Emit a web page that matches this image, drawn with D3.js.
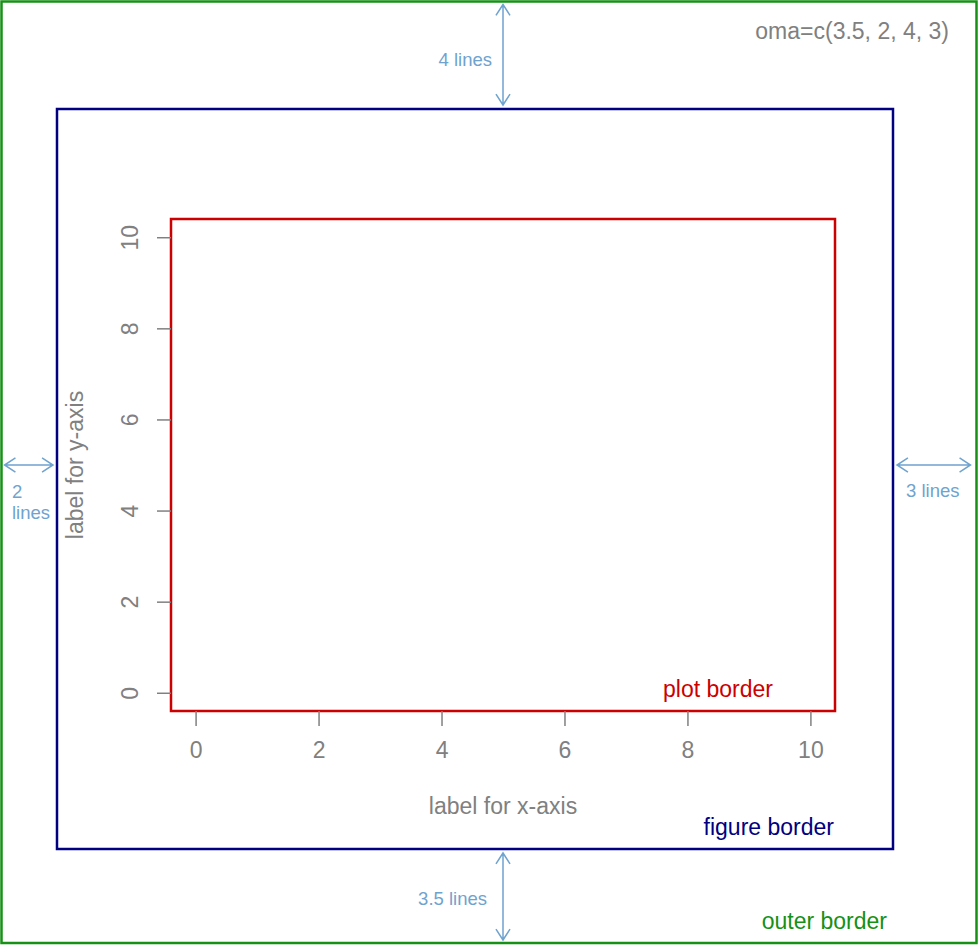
<!DOCTYPE html>
<html>
<head>
<meta charset="utf-8">
<script src="https://cdn.jsdelivr.net/npm/d3@7"></script>
<style>
  body { margin: 0; background: #fff; }
  text { font-family: "Liberation Sans", Arial, sans-serif; }
</style>
</head>
<body>
<div id="chart"></div>
<script>
// outer margin sizes, in lines: bottom, left, top, right
var omaLines = [3.5, 2, 4, 3];
var omaLabels = ["3.5 lines", "2\nlines", "4 lines", "3 lines"];
var xTicks = [0, 2, 4, 6, 8, 10];
var yTicks = [0, 2, 4, 6, 8, 10];
var xDomain = [0, 10];
var yDomain = [0, 10];

var width = 978, height = 945;
var grey = "#808080", arrowCol = "#6fa3cf";
var fs = "23px";

// boxes
var outer = {x0: 1.5, y0: 1.5, x1: 976.5, y1: 943};
var figure = {x0: 57, y0: 109, x1: 893, y1: 849};
var plot = {x0: 171, y0: 219, x1: 835, y1: 711};

var svg = d3.select("#chart").append("svg")
  .attr("width", width)
  .attr("height", height);

// R style axis: 4% extension on both ends
function extend(dom) {
  var r = (dom[1] - dom[0]) * 0.04;
  return [dom[0] - r, dom[1] + r];
}
var x = d3.scaleLinear().domain(extend(xDomain)).range([plot.x0, plot.x1]);
var y = d3.scaleLinear().domain(extend(yDomain)).range([plot.y1, plot.y0]);

function box(b, col) {
  svg.append("rect")
    .attr("x", b.x0).attr("y", b.y0)
    .attr("width", b.x1 - b.x0).attr("height", b.y1 - b.y0)
    .attr("fill", "none")
    .attr("stroke", col)
    .attr("stroke-width", 2.5);
}
box(outer, "#169116");
box(figure, "#000080");
box(plot, "#cc0000");

// axes
var xAxis = d3.axisBottom(x).tickValues(xTicks).tickSize(15).tickPadding(16);
var gx = svg.append("g")
  .attr("transform", "translate(0," + plot.y1 + ")")
  .call(xAxis);
gx.select(".domain").remove();

var yAxis = d3.axisLeft(y).tickValues(yTicks).tickSize(14);
var gy = svg.append("g")
  .attr("transform", "translate(" + plot.x0 + ",0)")
  .call(yAxis);
gy.select(".domain").remove();
gy.selectAll(".tick text")
  .attr("transform", "rotate(-90,-41,0)")
  .attr("x", -41).attr("dy", "0.35em")
  .attr("text-anchor", "middle");

[gx, gy].forEach(function (g) {
  g.selectAll(".tick line").attr("stroke", grey).attr("stroke-width", 1.5);
  g.selectAll(".tick text")
    .attr("fill", grey)
    .style("font-size", fs)
    .style("font-family", "'Liberation Sans', Arial, sans-serif");
});

// axis titles
svg.append("text")
  .attr("x", (plot.x0 + plot.x1) / 2)
  .attr("y", 814)
  .attr("text-anchor", "middle")
  .attr("fill", grey)
  .style("font-size", fs)
  .text("label for x-axis");

svg.append("text")
  .attr("transform", "translate(83," + ((plot.y0 + plot.y1) / 2) + ") rotate(-90)")
  .attr("text-anchor", "middle")
  .attr("fill", grey)
  .style("font-size", fs)
  .text("label for y-axis");

// border names
svg.append("text")
  .attr("x", 773).attr("y", 697)
  .attr("text-anchor", "end")
  .attr("fill", "#cc0000")
  .style("font-size", fs)
  .text("plot border");

svg.append("text")
  .attr("x", 834).attr("y", 835)
  .attr("text-anchor", "end")
  .attr("fill", "#000080")
  .style("font-size", fs)
  .text("figure border");

svg.append("text")
  .attr("x", 887).attr("y", 929)
  .attr("text-anchor", "end")
  .attr("fill", "#169116")
  .style("font-size", fs)
  .text("outer border");

svg.append("text")
  .attr("x", 949).attr("y", 39)
  .attr("text-anchor", "end")
  .attr("fill", grey)
  .style("font-size", fs)
  .text("oma=c(" + omaLines.join(", ") + ")");

// arrows for the outer margins
function arrow(x1, y1, x2, y2) {
  var ang = Math.atan2(y2 - y1, x2 - x1), h = 13, a = Math.PI / 5.5;
  var p = d3.path();
  p.moveTo(x1, y1); p.lineTo(x2, y2);
  [[x1, y1, ang], [x2, y2, ang + Math.PI]].forEach(function (e) {
    p.moveTo(e[0] + h * Math.cos(e[2] + a), e[1] + h * Math.sin(e[2] + a));
    p.lineTo(e[0], e[1]);
    p.lineTo(e[0] + h * Math.cos(e[2] - a), e[1] + h * Math.sin(e[2] - a));
  });
  svg.append("path")
    .attr("d", p.toString())
    .attr("fill", "none")
    .attr("stroke", arrowCol)
    .attr("stroke-width", 1.5);
}
function label(txt, x0, y0, anchor) {
  var t = svg.append("text")
    .attr("x", x0).attr("y", y0)
    .attr("text-anchor", anchor)
    .attr("fill", arrowCol)
    .style("font-size", "18.5px");
  txt.split("\n").forEach(function (s, i) {
    t.append("tspan").attr("x", x0).attr("dy", i ? 21 : 0).text(s);
  });
}
var midX = 503, midY = 465;
// bottom
arrow(midX, figure.y1 + 4, midX, outer.y1 - 3);
label(omaLabels[0], 487, 905, "end");
// left
arrow(outer.x0 + 3, midY, figure.x0 - 4, midY);
label(omaLabels[1], 12, 498, "start");
// top
arrow(midX, outer.y0 + 3, midX, figure.y0 - 4);
label(omaLabels[2], 492, 66, "end");
// right
arrow(figure.x1 + 4, midY, outer.x1 - 6, midY);
label(omaLabels[3], 906, 497, "start");
</script>
</body>
</html>
